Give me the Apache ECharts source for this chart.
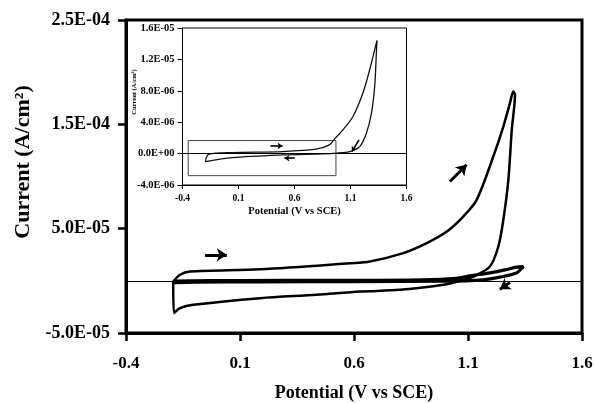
<!DOCTYPE html>
<html><head><meta charset="utf-8">
<script src="https://cdn.jsdelivr.net/npm/echarts@6/dist/echarts.min.js"></script>
<style>html,body{margin:0;padding:0;background:#fff}#c{width:594px;height:403px}</style>
</head><body><div id="c"></div>
<script>
// ---- tick values ----
const xTicks = [-0.4, 0.1, 0.6, 1.1, 1.6];
const mainYTicks = [-5e-5, 5e-5, 1.5e-4, 2.5e-4];
const insetYTicks = [-4e-6, 0, 4e-6, 8e-6, 1.2e-5, 1.6e-5];

// ---- main chart: large cycle (V vs SCE, A/cm2) ----
const bigLoopV = [-0.193, -0.163, -0.119, 0.188, 0.582, 0.670, 0.816, 0.919, 1.007, 1.079, 1.138, 1.211, 1.255, 1.284, 1.299,
  1.306, 1.292, 1.277, 1.255, 1.233, 1.196, 1.123, 1.080, 0.992, 0.802, 0.626, 0.436, 0.188, -0.105, -0.163, -0.190, -0.193];
const bigLoopI = [-0.07e-5, 0.58e-5, 0.89e-5, 1.10e-5, 1.68e-5, 1.85e-5, 2.65e-5, 3.61e-5, 4.72e-5, 6.16e-5, 7.76e-5, 11.92e-5, 14.79e-5, 17.04e-5, 18.15e-5,
  17.83e-5, 14.48e-5, 9.68e-5, 5.85e-5, 3.29e-5, 1.37e-5, 0.41e-5, 0.10e-5, -0.38e-5, -0.86e-5, -1.03e-5, -1.34e-5, -1.66e-5, -2.30e-5, -2.62e-5, -3.10e-5, -0.07e-5];

// ---- main chart: small cycle ----
const smallLoopV = [-0.19, 0.1, 0.5, 0.9, 1.05, 1.11, 1.196, 1.262, 1.313, 1.343, 1.333, 1.313, 1.24, 1.167, 1.0, 0.6, 0.2, -0.1, -0.19, -0.19];
const smallLoopI = [-0.02e-5, 0.03e-5, 0.05e-5, 0.1e-5, 0.25e-5, 0.48e-5, 0.77e-5, 1.05e-5, 1.31e-5, 1.37e-5, 1.15e-5, 0.74e-5, 0.35e-5, 0.1e-5, -0.04e-5, -0.07e-5, -0.1e-5, -0.13e-5, -0.17e-5, -0.02e-5];

// ---- inset: small cycle ----
const insetV = [-0.194, -0.164, 0.045, 0.493, 0.791, 0.911, 0.958, 1.032, 1.122, 1.211, 1.271, 1.316, 1.337,
  1.331, 1.316, 1.287, 1.242, 1.182, 1.092, 0.973, 0.851, 0.493, 0.045, -0.194, -0.194];
const insetI = [-0.80e-6, -0.08e-6, 0.13e-6, 0.26e-6, 0.56e-6, 1.11e-6, 1.88e-6, 3.02e-6, 4.72e-6, 7.71e-6, 10.68e-6, 13.23e-6, 14.42e-6,
  12.81e-6, 8.55e-6, 5.16e-6, 2.60e-6, 0.89e-6, 0.26e-6, 0.05e-6, -0.04e-6, -0.17e-6, -0.51e-6, -1.02e-6, -0.80e-6];

// ---- arrows (tail, head) ----
const mainArrows = [
  [[-0.053, 2.49e-5], [0.042, 2.49e-5]],
  [[1.021, 9.52e-5], [1.094, 11.12e-5]],
  [[1.284, -0.16e-5], [1.240, -0.80e-5]]
];
const insetArrows = [
  [[0.385, 0.98e-6], [0.493, 0.98e-6]],
  [[0.601, -0.59e-6], [0.51, -0.59e-6]],
  [[1.176, 1.75e-6], [1.113, 0.26e-6]]
];
// zoom box drawn in the inset (corner, corner)
const insetBox = [[-0.349, 1.66e-6], [0.970, -2.81e-6]];

function fmtE(v) {
  if (Math.abs(v) < 1e-15) return '0.0E+00';
  const s = v.toExponential(1).split('e');
  const n = parseInt(s[1], 10);
  const a = Math.abs(n);
  return s[0] + 'E' + (n < 0 ? '-' : '+') + (a < 10 ? '0' : '') + a;
}
const pairs = (xs, ys) => xs.map((x, i) => [x, ys[i]]);
const FF = '"Liberation Serif", "Times New Roman", serif';

function xAxisCfg(grid, big) {
  return {
    type: 'value', gridIndex: grid, min: -0.4, max: 1.6,
    axisLine: { show: true, onZero: false, lineStyle: { color: '#000', width: big ? 3 : 1 } },
    axisTick: { show: true, customValues: xTicks, length: big ? 8 : 4, lineStyle: { color: '#000', width: big ? 2.5 : 1 } },
    axisLabel: { customValues: xTicks, formatter: v => v.toFixed(1), color: '#000', fontFamily: FF, fontWeight: 'bold',
      fontSize: big ? 17 : 9.5, margin: big ? 22 : 9 },
    splitLine: { show: false },
    name: 'Potential (V vs SCE)', nameLocation: 'middle', nameGap: big ? 51 : 21,
    nameTextStyle: { color: '#000', fontFamily: FF, fontWeight: 'bold', fontSize: big ? 18 : 10.5 }
  };
}
function yAxisCfg(grid, big, ticks, mn, mx) {
  return {
    type: 'value', gridIndex: grid, min: mn, max: mx,
    axisLine: { show: true, onZero: false, lineStyle: { color: '#000', width: big ? 3 : 1 } },
    axisTick: { show: true, customValues: ticks, length: big ? 8 : 5, lineStyle: { color: '#000', width: big ? 2.5 : 1 } },
    axisLabel: { customValues: ticks, formatter: fmtE, color: '#000', fontFamily: FF, fontWeight: 'bold',
      fontSize: big ? 18 : 10.5, margin: big ? 16 : 8 },
    splitLine: { show: false }
  };
}

const chart = echarts.init(document.getElementById('c'), null, { renderer: 'canvas' });
chart.setOption({
  animation: false,
  backgroundColor: '#fff',
  grid: [
    { left: 126, right: 12, top: 20, bottom: 70, show: true, borderColor: '#000', borderWidth: 3, backgroundColor: '#fff',
      containLabel: false, outerBoundsMode: 'none' },
    { left: 182.5, top: 28, width: 224, height: 157, show: true, borderColor: '#000', borderWidth: 1, backgroundColor: '#fff',
      containLabel: false, outerBoundsMode: 'none' }
  ],
  xAxis: [xAxisCfg(0, true), xAxisCfg(1, false)],
  yAxis: [yAxisCfg(0, true, mainYTicks, -5e-5, 2.5e-4), yAxisCfg(1, false, insetYTicks, -4e-6, 1.6e-5)],
  graphic: [
    { type: 'text', x: 23, y: 162, rotation: Math.PI / 2,
      style: { text: 'Current (A/cm²)', font: 'bold 22px ' + FF, fill: '#000', align: 'center', verticalAlign: 'middle' } },
    { type: 'text', x: 134.5, y: 92, rotation: Math.PI / 2,
      style: { text: 'Current (A/cm²)', font: 'bold 6.5px ' + FF, fill: '#000', align: 'center', verticalAlign: 'middle' } }
  ],
  series: [
    {
      type: 'line', xAxisIndex: 0, yAxisIndex: 0, data: pairs(bigLoopV, bigLoopI),
      showSymbol: false, smooth: 0.3, lineStyle: { color: '#000', width: 2.5 },
      markLine: { silent: true, symbol: 'none', label: { show: false },
        lineStyle: { color: '#000', width: 1, type: 'solid' }, data: [{ yAxis: 0 }] }
    },
    {
      type: 'line', xAxisIndex: 0, yAxisIndex: 0, data: pairs(smallLoopV, smallLoopI),
      showSymbol: false, smooth: 0.3, lineStyle: { color: '#000', width: 3.2 },
      markLine: { silent: true, symbol: ['none', 'arrow'], symbolSize: 10, label: { show: false },
        lineStyle: { color: '#000', width: 3, type: 'solid' },
        data: mainArrows.map(a => [{ coord: a[0] }, { coord: a[1] }]) }
    },
    {
      type: 'line', xAxisIndex: 1, yAxisIndex: 1, data: pairs(insetV, insetI),
      showSymbol: false, smooth: 0.3, lineStyle: { color: '#111', width: 1.3 },
      markLine: { silent: true, symbol: 'none', label: { show: false },
        lineStyle: { color: '#000', width: 1, type: 'solid' }, data: [{ yAxis: 0 }] },
      markArea: { silent: true, itemStyle: { color: 'rgba(0,0,0,0)', borderColor: '#444', borderWidth: 1 },
        data: [[{ coord: insetBox[0] }, { coord: insetBox[1] }]] }
    },
    {
      type: 'line', xAxisIndex: 1, yAxisIndex: 1, data: [],
      markLine: { silent: true, symbol: ['none', 'arrow'], symbolSize: 5, label: { show: false },
        lineStyle: { color: '#000', width: 1.6, type: 'solid' },
        data: insetArrows.map(a => [{ coord: a[0] }, { coord: a[1] }]) }
    }
  ]
});
</script>
</body></html>
